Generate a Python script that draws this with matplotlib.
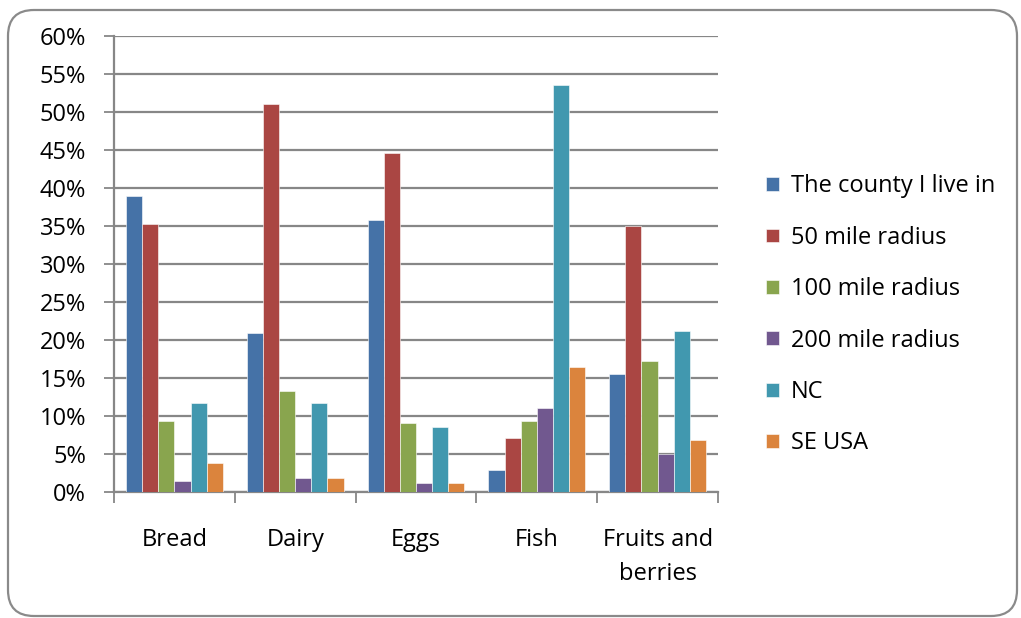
import matplotlib
matplotlib.use("Agg")
import matplotlib.pyplot as plt
import numpy as np
from matplotlib.patches import FancyBboxPatch
from matplotlib.transforms import IdentityTransform

plt.rcParams['font.family'] = ['Open Sans', 'DejaVu Sans']

categories = ["Bread", "Dairy", "Eggs", "Fish", "Fruits and\nberries"]
series_names = ["The county I live in", "50 mile radius", "100 mile radius",
                "200 mile radius", "NC", "SE USA"]
county = [38.9, 20.9, 35.8, 2.9, 15.5]
mile50 = [35.2, 51.0, 44.6, 7.1, 35.0]
mile100 = [9.4, 13.3, 9.1, 9.4, 17.2]
mile200 = [1.5, 1.8, 1.2, 11.1, 5.0]
nc = [11.7, 11.7, 8.5, 53.6, 21.2]
se_usa = [3.8, 1.8, 1.2, 16.4, 6.8]
y_ticks = [0, 5, 10, 15, 20, 25, 30, 35, 40, 45, 50, 55, 60]

series = [county, mile50, mile100, mile200, nc, se_usa]
colors = ["#4572A7", "#AA4643", "#89A54E", "#71588F", "#4198AF", "#DB843D"]

fig = plt.figure(figsize=(10.21, 6.18), dpi=100)
ax = fig.add_axes([114/1021, 1-492/618, 604/1021, 456/618])

# rounded chart-area border
frame = FancyBboxPatch((8, 2), 1009, 606, boxstyle="round,pad=0,rounding_size=26",
                       transform=IdentityTransform(), facecolor="white",
                       edgecolor="#8a8a8a", linewidth=1.6, zorder=-10)
fig.patches.append(frame)

n = len(series)
bw = 1.0 / (n + 1.5)
x = np.arange(len(categories))
handles = []
for i, (vals, col, name) in enumerate(zip(series, colors, series_names)):
    offs = (i - (n - 1) / 2) * bw
    b = ax.bar(x + offs, vals, width=bw, color=col, edgecolor="white",
               linewidth=0.4, label=name, zorder=3)
    handles.append(b)

ax.set_xlim(-0.5, len(categories) - 0.5)
ax.set_ylim(0, 60)
ax.set_yticks(y_ticks)
ax.set_yticklabels([f"{v}%" for v in y_ticks])
ax.yaxis.grid(True, color="#878787", linewidth=1.6, zorder=0)
ax.set_axisbelow(True)

ax.set_xticks(np.arange(len(categories) + 1) - 0.5, minor=False)
ax.set_xticklabels([])
ax.set_xticks(x, minor=True)
ax.set_xticklabels(categories, minor=True, linespacing=1.55)
ax.tick_params(axis="x", which="major", length=8, width=1.3, color="#878787", direction="out")
ax.tick_params(axis="x", which="minor", length=0, pad=26, labelsize=17)
ax.tick_params(axis="y", length=7, width=1.3, color="#878787", direction="out",
               pad=13, labelsize=17)

for s in ["top", "right"]:
    ax.spines[s].set_visible(False)
for s in ["left", "bottom"]:
    ax.spines[s].set_color("#878787")
    ax.spines[s].set_linewidth(1.6)

leg = fig.legend(handles=handles, labels=series_names, loc="upper left",
                 bbox_to_anchor=(757/1021, 1-165/618), frameon=False,
                 fontsize=17, handlelength=0.52, handleheight=0.52,
                 handletextpad=0.5, labelspacing=1.16, borderaxespad=0)

fig.savefig("out.png", dpi=100)
